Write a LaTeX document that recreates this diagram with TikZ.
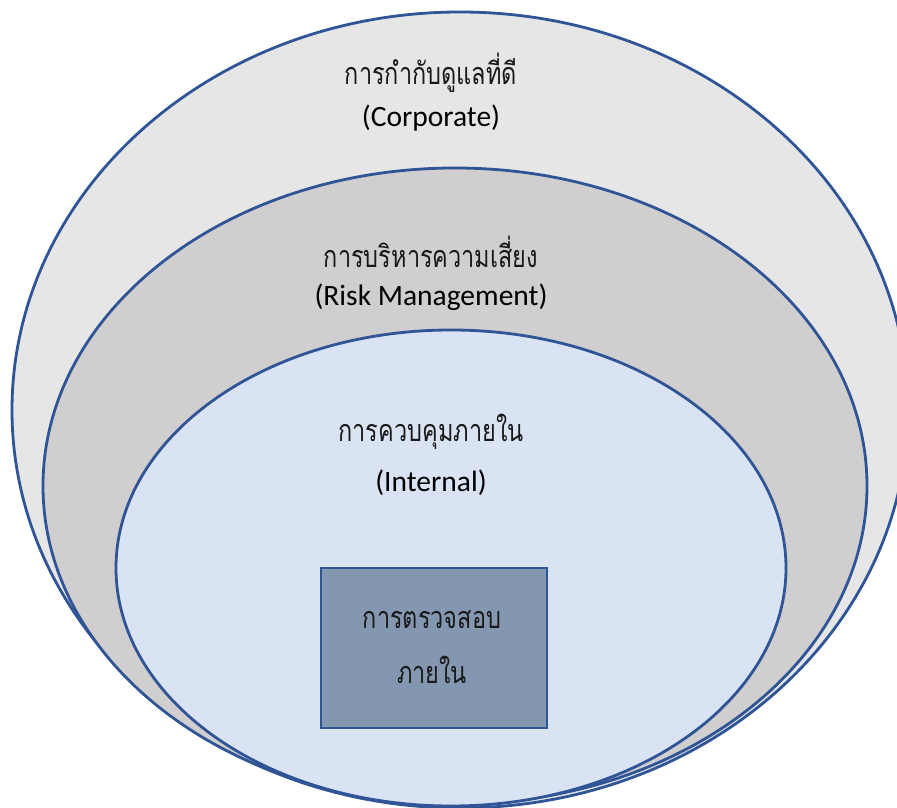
\documentclass[tikz,border=0pt]{standalone}
\usepackage{fontspec}
\setmainfont{Carlito}
\newfontfamily\thaifont[Script=Thai]{Loma}
\definecolor{edge}{HTML}{2F5597}
\definecolor{outerfill}{HTML}{E6E6E6}
\definecolor{midfill}{HTML}{D0CECE}
\definecolor{innerfill}{HTML}{DAE3F3}
\definecolor{boxfill}{HTML}{8497B0}
\begin{document}
\begin{tikzpicture}[x=1pt,y=1pt,
  ring/.style={draw=edge,line width=2.8pt},
  lat/.style={font=\fontsize{29.5}{30}\selectfont,text=black,inner sep=0pt,anchor=center},
  thai/.style={font=\thaifont\fontsize{23.5}{25}\selectfont,text=black!90,inner sep=0pt,anchor=center,yscale=1.3,transform shape}]
\useasboundingbox (0,0) rectangle (897,808);
\clip (0,0) rectangle (897,808);
\fill[white] (0,0) rectangle (897,808);
\draw[ring,fill=outerfill] (460,398) ellipse [x radius=448pt,y radius=398pt];
\draw[ring,fill=midfill] (455,322) ellipse [x radius=412pt,y radius=318pt];
\draw[ring,fill=innerfill] (451,240) ellipse [x radius=335pt,y radius=238pt];
\node[draw=edge,line width=2.8pt,fill=boxfill,minimum width=226pt,minimum height=160pt,inner sep=0pt] (audit) at (434,160) {};
\node[thai] (c1) at (431,735) {การกำกับดูแลที่ดี};
\node[lat] (c2) at (431,690) {(Corporate)};
\node[thai] (r1) at (431,556) {การบริหารความเสี่ยง};
\node[lat] (r2) at (431,511) {(Risk Management)};
\node[thai] (i1) at (431,376) {การควบคุมภายใน};
\node[lat] (i2) at (431,325) {(Internal)};
\node[thai] (a1) at (432,188) {การตรวจสอบ};
\node[thai] (a2) at (432,138) {ภายใน};
\end{tikzpicture}
\end{document}
